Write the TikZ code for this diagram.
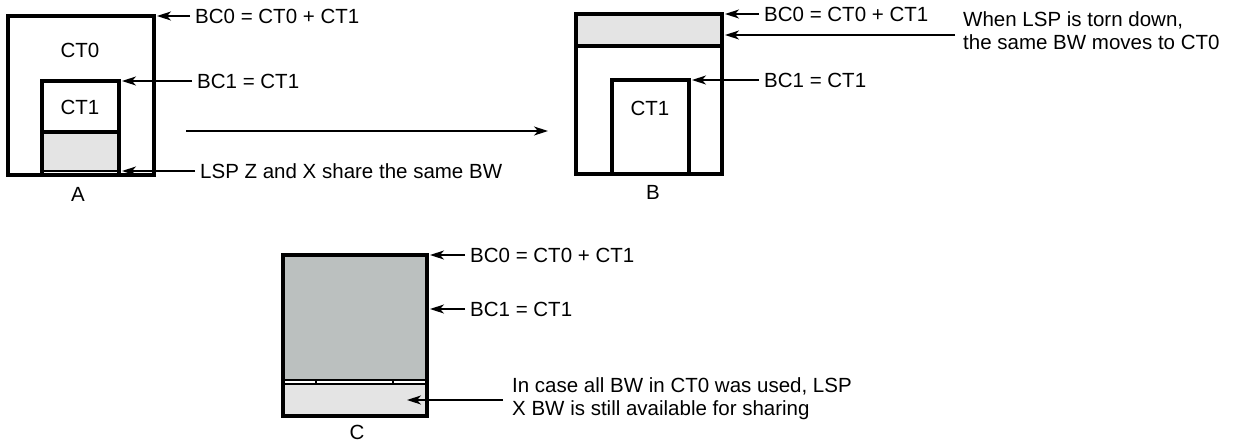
\documentclass[tikz,border=0pt]{standalone}
\usepackage{fontspec}
\setmainfont{Liberation Sans}
\usetikzlibrary{arrows.meta}
\definecolor{bwlight}{HTML}{E4E4E4}
\definecolor{bwdark}{HTML}{BBC0BF}
\begin{document}
\begin{tikzpicture}[x=1pt,y=-1pt,font=\fontsize{20.5}{23.5}\selectfont,
    box/.style={line width=3.2pt},
    thinbox/.style={line width=2.2pt},
    lbl/.style={anchor=west,inner xsep=5pt,inner ysep=0pt,text height=14.7pt,text depth=0pt},
    note/.style={anchor=north west,inner sep=0pt,align=left},
    ptr/.style={-{Stealth[length=14pt,width=9pt,inset=4pt]},line width=1.3pt}]
  \useasboundingbox (0,0) rectangle (1238,445);
  % A
  \fill[bwlight] (42,132) rectangle (119,170);
  \draw[box] (8,16) rectangle (154,175);
  \draw[box] (42,175) |- (119,81) -- (119,175);
  \draw[box] (42,132) -- (119,132);
  \draw[thinbox] (42,171) -- (119,171);
  \node (ct0A) at (80,50) {CT0};
  \node (ct1A) at (80,107) {CT1};
  \node (labA) at (78,194) {A};
  \coordinate (bc0A) at (157,16);
  \coordinate (bc1A) at (122,81);
  \coordinate (lspA) at (122,171);
  \node[lbl] (tbc0A) at (190,16) {BC0 = CT0 + CT1};
  \node[lbl] (tbc1A) at (192,81) {BC1 = CT1};
  \node[lbl] (tlspA) at (195,171) {LSP Z and X share the same BW};
  \draw[ptr] (tbc0A) -- (bc0A);
  \draw[ptr] (tbc1A) -- (bc1A);
  \draw[ptr] (tlspA) -- (lspA);
  % A -> B
  \coordinate (fromA) at (186,131);
  \coordinate (toB) at (548,131);
  \draw[ptr] (fromA) -- (toB);
  % B
  \fill[bwlight] (576,14) rectangle (722,46);
  \draw[box] (576,14) rectangle (722,174);
  \draw[box] (576,46) -- (722,46);
  \draw[box] (612,174) |- (689,80) -- (689,174);
  \node (ct1B) at (650,108) {CT1};
  \node (labB) at (653,192) {B};
  \coordinate (bc0B) at (725,14);
  \coordinate (tornB) at (725,35);
  \coordinate (bc1B) at (692,80);
  \node[lbl] (tbc0B) at (759,14) {BC0 = CT0 + CT1};
  \node[lbl] (tbc1B) at (759,80) {BC1 = CT1};
  \node[note] (noteB) at (963,11) {When LSP is torn down,\\the same BW moves to CT0};
  \draw[ptr] (tbc0B) -- (bc0B);
  \draw[ptr] (tbc1B) -- (bc1B);
  \draw[ptr] ([xshift=-8pt]noteB.west |- tornB) -- (tornB);
  % C
  \fill[bwdark] (283,255) rectangle (427,380);
  \fill[bwlight] (283,384) rectangle (427,416);
  \draw[thinbox] (283,380) -- (427,380);
  \draw[thinbox] (283,384) -- (427,384);
  \draw[thinbox] (316,380) -- (316,384) (393,380) -- (393,384);
  \draw[box] (283,255) rectangle (427,416);
  \node (labC) at (357,432) {C};
  \coordinate (bc0C) at (430,255);
  \coordinate (bc1C) at (430,309);
  \coordinate (shareC) at (407,400);
  \node[lbl] (tbc0C) at (465,255) {BC0 = CT0 + CT1};
  \node[lbl] (tbc1C) at (465,309) {BC1 = CT1};
  \node[note] (noteC) at (512,377) {In case all BW in CT0 was used, LSP\\X BW is still available for sharing};
  \draw[ptr] (tbc0C) -- (bc0C);
  \draw[ptr] (tbc1C) -- (bc1C);
  \draw[ptr] ([xshift=-9pt]noteC.west |- shareC) -- (shareC);
\end{tikzpicture}
\end{document}
